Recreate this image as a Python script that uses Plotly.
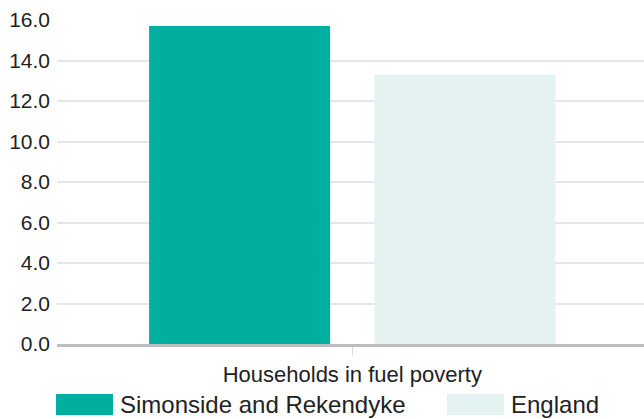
import plotly.graph_objects as go

categories = ["Households in fuel poverty"]
series_names = ["Simonside and Rekendyke", "England"]
simonside_values = [15.7]
england_values = [13.3]
y_tick_values = [0, 2, 4, 6, 8, 10, 12, 14, 16]
y_tick_labels = ["0.0", "2.0", "4.0", "6.0", "8.0", "10.0", "12.0", "14.0", "16.0"]
colors = ["#00AFA0", "#E4F2F2"]

W, H = 644, 419
ML, MR, MT, MB = 57, 0, 20, 75
PW, PH = W - ML - MR, H - MT - MB

def px_x(px):
    return (px - ML) / PW

def px_y(py):
    return (H - MB - py) / PH

fig = go.Figure()
for name, vals, col in zip(series_names, [simonside_values, england_values], colors):
    fig.add_trace(go.Bar(x=categories, y=vals, name=name, marker=dict(color=col, line=dict(width=0)),
                         showlegend=False, hoverinfo="skip"))

font_family = "Liberation Sans, Arial, sans-serif"

# manual legend (large swatches)
legend_items = [(56, 113, 118), (447, 504, 509)]
shapes = []
annotations = []
for (x0, x1, tx), name, col in zip(legend_items, series_names, colors):
    shapes.append(dict(type="rect", xref="paper", yref="paper",
                       x0=px_x(x0), x1=px_x(x1), y0=px_y(415), y1=px_y(394),
                       fillcolor=col, line=dict(width=0)))
    annotations.append(dict(text=name, xref="paper", yref="paper", x=px_x(tx), y=px_y(404.5),
                            xanchor="left", yanchor="middle", showarrow=False,
                            font=dict(size=24, color="#222222", family=font_family)))

shift = 1.8 / PW
fig.update_layout(
    width=W, height=H,
    margin=dict(l=ML, r=MR, t=MT, b=MB, pad=0),
    paper_bgcolor="white", plot_bgcolor="white",
    barmode="group", bargap=0.232, bargroupgap=0.197,
    font=dict(family=font_family, color="#222222", size=21),
    shapes=shapes, annotations=annotations,
    xaxis=dict(range=[-0.5 - shift, 0.5 - shift], showline=True, linecolor="#BDBDBD", linewidth=3,
               ticks="outside", ticklen=9, tickcolor="#DDDDDD", tickwidth=1,
               tickfont=dict(size=22, color="#222222"), showgrid=False, fixedrange=True),
    yaxis=dict(range=[0, 16], tickvals=y_tick_values, ticktext=y_tick_labels,
               showgrid=True, gridcolor="#E6E6E6", gridwidth=2,
               zeroline=False, showline=False, ticks="", ticklabelstandoff=6,
               tickfont=dict(size=21, color="#222222"), fixedrange=True),
)

fig.write_html("out.html", config={"displayModeBar": False},
               post_script="document.body.style.margin='0';document.body.style.overflow='hidden';")
